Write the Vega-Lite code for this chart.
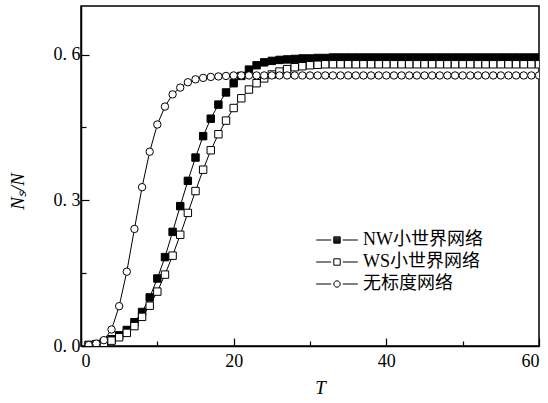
{
 "$schema": "https://vega.github.io/schema/vega-lite/v6.json",
 "width": 458, "height": 340,
 "autosize": {"type": "none"},
 "padding": {"left": 81, "top": 6, "right": 9, "bottom": 57},
 "background": "white",
 "config": {"view": {"stroke": "black", "strokeWidth": 1.5}, "font": "Liberation Serif"},
 "data": {"values": [
  {"T":1,"y":0.002,"s":"NW小世界网络"},{"T":2,"y":0.004,"s":"NW小世界网络"},{"T":3,"y":0.008,"s":"NW小世界网络"},{"T":4,"y":0.014,"s":"NW小世界网络"},{"T":5,"y":0.022,"s":"NW小世界网络"},{"T":6,"y":0.033,"s":"NW小世界网络"},{"T":7,"y":0.049,"s":"NW小世界网络"},{"T":8,"y":0.070,"s":"NW小世界网络"},{"T":9,"y":0.100,"s":"NW小世界网络"},{"T":10,"y":0.139,"s":"NW小世界网络"},
  {"T":11,"y":0.183,"s":"NW小世界网络"},{"T":12,"y":0.235,"s":"NW小世界网络"},{"T":13,"y":0.288,"s":"NW小世界网络"},{"T":14,"y":0.340,"s":"NW小世界网络"},{"T":15,"y":0.388,"s":"NW小世界网络"},{"T":16,"y":0.432,"s":"NW小世界网络"},{"T":17,"y":0.468,"s":"NW小世界网络"},{"T":18,"y":0.497,"s":"NW小世界网络"},{"T":19,"y":0.522,"s":"NW小世界网络"},{"T":20,"y":0.541,"s":"NW小世界网络"},
  {"T":21,"y":0.556,"s":"NW小世界网络"},{"T":22,"y":0.569,"s":"NW小世界网络"},{"T":23,"y":0.578,"s":"NW小世界网络"},{"T":24,"y":0.584,"s":"NW小世界网络"},{"T":25,"y":0.587,"s":"NW小世界网络"},{"T":26,"y":0.589,"s":"NW小世界网络"},{"T":27,"y":0.590,"s":"NW小世界网络"},{"T":28,"y":0.591,"s":"NW小世界网络"},{"T":29,"y":0.592,"s":"NW小世界网络"},{"T":30,"y":0.592,"s":"NW小世界网络"},
  {"T":31,"y":0.593,"s":"NW小世界网络"},{"T":32,"y":0.593,"s":"NW小世界网络"},{"T":33,"y":0.594,"s":"NW小世界网络"},{"T":34,"y":0.594,"s":"NW小世界网络"},{"T":35,"y":0.594,"s":"NW小世界网络"},{"T":36,"y":0.594,"s":"NW小世界网络"},{"T":37,"y":0.594,"s":"NW小世界网络"},{"T":38,"y":0.594,"s":"NW小世界网络"},{"T":39,"y":0.594,"s":"NW小世界网络"},{"T":40,"y":0.594,"s":"NW小世界网络"},
  {"T":41,"y":0.594,"s":"NW小世界网络"},{"T":42,"y":0.594,"s":"NW小世界网络"},{"T":43,"y":0.594,"s":"NW小世界网络"},{"T":44,"y":0.594,"s":"NW小世界网络"},{"T":45,"y":0.594,"s":"NW小世界网络"},{"T":46,"y":0.594,"s":"NW小世界网络"},{"T":47,"y":0.594,"s":"NW小世界网络"},{"T":48,"y":0.594,"s":"NW小世界网络"},{"T":49,"y":0.594,"s":"NW小世界网络"},{"T":50,"y":0.594,"s":"NW小世界网络"},
  {"T":51,"y":0.594,"s":"NW小世界网络"},{"T":52,"y":0.594,"s":"NW小世界网络"},{"T":53,"y":0.594,"s":"NW小世界网络"},{"T":54,"y":0.594,"s":"NW小世界网络"},{"T":55,"y":0.594,"s":"NW小世界网络"},{"T":56,"y":0.594,"s":"NW小世界网络"},{"T":57,"y":0.594,"s":"NW小世界网络"},{"T":58,"y":0.594,"s":"NW小世界网络"},{"T":59,"y":0.594,"s":"NW小世界网络"},{"T":60,"y":0.594,"s":"NW小世界网络"},
  {"T":1,"y":0.002,"s":"WS小世界网络"},{"T":2,"y":0.003,"s":"WS小世界网络"},{"T":3,"y":0.006,"s":"WS小世界网络"},{"T":4,"y":0.011,"s":"WS小世界网络"},{"T":5,"y":0.018,"s":"WS小世界网络"},{"T":6,"y":0.027,"s":"WS小世界网络"},{"T":7,"y":0.041,"s":"WS小世界网络"},{"T":8,"y":0.060,"s":"WS小世界网络"},{"T":9,"y":0.083,"s":"WS小世界网络"},{"T":10,"y":0.112,"s":"WS小世界网络"},
  {"T":11,"y":0.147,"s":"WS小世界网络"},{"T":12,"y":0.186,"s":"WS小世界网络"},{"T":13,"y":0.229,"s":"WS小世界网络"},{"T":14,"y":0.274,"s":"WS小世界网络"},{"T":15,"y":0.319,"s":"WS小世界网络"},{"T":16,"y":0.363,"s":"WS小世界网络"},{"T":17,"y":0.403,"s":"WS小世界网络"},{"T":18,"y":0.436,"s":"WS小世界网络"},{"T":19,"y":0.464,"s":"WS小世界网络"},{"T":20,"y":0.490,"s":"WS小世界网络"},
  {"T":21,"y":0.510,"s":"WS小世界网络"},{"T":22,"y":0.528,"s":"WS小世界网络"},{"T":23,"y":0.541,"s":"WS小世界网络"},{"T":24,"y":0.551,"s":"WS小世界网络"},{"T":25,"y":0.559,"s":"WS小世界网络"},{"T":26,"y":0.565,"s":"WS小世界网络"},{"T":27,"y":0.570,"s":"WS小世界网络"},{"T":28,"y":0.574,"s":"WS小世界网络"},{"T":29,"y":0.576,"s":"WS小世界网络"},{"T":30,"y":0.578,"s":"WS小世界网络"},
  {"T":31,"y":0.579,"s":"WS小世界网络"},{"T":32,"y":0.580,"s":"WS小世界网络"},{"T":33,"y":0.580,"s":"WS小世界网络"},{"T":34,"y":0.580,"s":"WS小世界网络"},{"T":35,"y":0.580,"s":"WS小世界网络"},{"T":36,"y":0.580,"s":"WS小世界网络"},{"T":37,"y":0.580,"s":"WS小世界网络"},{"T":38,"y":0.580,"s":"WS小世界网络"},{"T":39,"y":0.580,"s":"WS小世界网络"},{"T":40,"y":0.580,"s":"WS小世界网络"},
  {"T":41,"y":0.580,"s":"WS小世界网络"},{"T":42,"y":0.580,"s":"WS小世界网络"},{"T":43,"y":0.580,"s":"WS小世界网络"},{"T":44,"y":0.580,"s":"WS小世界网络"},{"T":45,"y":0.580,"s":"WS小世界网络"},{"T":46,"y":0.580,"s":"WS小世界网络"},{"T":47,"y":0.580,"s":"WS小世界网络"},{"T":48,"y":0.580,"s":"WS小世界网络"},{"T":49,"y":0.580,"s":"WS小世界网络"},{"T":50,"y":0.580,"s":"WS小世界网络"},
  {"T":51,"y":0.580,"s":"WS小世界网络"},{"T":52,"y":0.580,"s":"WS小世界网络"},{"T":53,"y":0.580,"s":"WS小世界网络"},{"T":54,"y":0.580,"s":"WS小世界网络"},{"T":55,"y":0.580,"s":"WS小世界网络"},{"T":56,"y":0.580,"s":"WS小世界网络"},{"T":57,"y":0.580,"s":"WS小世界网络"},{"T":58,"y":0.580,"s":"WS小世界网络"},{"T":59,"y":0.580,"s":"WS小世界网络"},{"T":60,"y":0.580,"s":"WS小世界网络"},
  {"T":1,"y":0.002,"s":"无标度网络"},{"T":2,"y":0.005,"s":"无标度网络"},{"T":3,"y":0.012,"s":"无标度网络"},{"T":4,"y":0.034,"s":"无标度网络"},{"T":5,"y":0.082,"s":"无标度网络"},{"T":6,"y":0.153,"s":"无标度网络"},{"T":7,"y":0.241,"s":"无标度网络"},{"T":8,"y":0.327,"s":"无标度网络"},{"T":9,"y":0.400,"s":"无标度网络"},{"T":10,"y":0.456,"s":"无标度网络"},
  {"T":11,"y":0.493,"s":"无标度网络"},{"T":12,"y":0.518,"s":"无标度网络"},{"T":13,"y":0.532,"s":"无标度网络"},{"T":14,"y":0.543,"s":"无标度网络"},{"T":15,"y":0.549,"s":"无标度网络"},{"T":16,"y":0.552,"s":"无标度网络"},{"T":17,"y":0.554,"s":"无标度网络"},{"T":18,"y":0.555,"s":"无标度网络"},{"T":19,"y":0.556,"s":"无标度网络"},{"T":20,"y":0.557,"s":"无标度网络"},
  {"T":21,"y":0.557,"s":"无标度网络"},{"T":22,"y":0.557,"s":"无标度网络"},{"T":23,"y":0.557,"s":"无标度网络"},{"T":24,"y":0.557,"s":"无标度网络"},{"T":25,"y":0.557,"s":"无标度网络"},{"T":26,"y":0.557,"s":"无标度网络"},{"T":27,"y":0.557,"s":"无标度网络"},{"T":28,"y":0.557,"s":"无标度网络"},{"T":29,"y":0.557,"s":"无标度网络"},{"T":30,"y":0.557,"s":"无标度网络"},
  {"T":31,"y":0.557,"s":"无标度网络"},{"T":32,"y":0.557,"s":"无标度网络"},{"T":33,"y":0.557,"s":"无标度网络"},{"T":34,"y":0.557,"s":"无标度网络"},{"T":35,"y":0.557,"s":"无标度网络"},{"T":36,"y":0.557,"s":"无标度网络"},{"T":37,"y":0.557,"s":"无标度网络"},{"T":38,"y":0.557,"s":"无标度网络"},{"T":39,"y":0.557,"s":"无标度网络"},{"T":40,"y":0.557,"s":"无标度网络"},
  {"T":41,"y":0.557,"s":"无标度网络"},{"T":42,"y":0.557,"s":"无标度网络"},{"T":43,"y":0.557,"s":"无标度网络"},{"T":44,"y":0.557,"s":"无标度网络"},{"T":45,"y":0.557,"s":"无标度网络"},{"T":46,"y":0.557,"s":"无标度网络"},{"T":47,"y":0.557,"s":"无标度网络"},{"T":48,"y":0.557,"s":"无标度网络"},{"T":49,"y":0.557,"s":"无标度网络"},{"T":50,"y":0.557,"s":"无标度网络"},
  {"T":51,"y":0.557,"s":"无标度网络"},{"T":52,"y":0.557,"s":"无标度网络"},{"T":53,"y":0.557,"s":"无标度网络"},{"T":54,"y":0.557,"s":"无标度网络"},{"T":55,"y":0.557,"s":"无标度网络"},{"T":56,"y":0.557,"s":"无标度网络"},{"T":57,"y":0.557,"s":"无标度网络"},{"T":58,"y":0.557,"s":"无标度网络"},{"T":59,"y":0.557,"s":"无标度网络"},{"T":60,"y":0.557,"s":"无标度网络"}
 ]},
 "encoding": {
  "x": {"field": "T", "type": "quantitative", "scale": {"domain": [0, 60], "nice": false},
   "axis": {"values": [0,10,20,30,40,50,60], "labelExpr": "datum.value % 20 === 0 ? datum.label : ''",
    "tickSize": -8, "tickDash": {"condition": {"test": "datum.value % 20 !== 0", "value": [5, 30]}, "value": [30, 0]},
    "tickColor": "black", "domainColor": "black", "domainWidth": 1.5, "tickWidth": 1.2, "grid": false,
    "labelFont": "Liberation Serif", "labelFontSize": 18, "labelColor": "black", "labelPadding": 14,
    "title": "T", "titleFont": "Liberation Serif", "titleFontStyle": "italic", "titleFontWeight": "normal", "titleFontSize": 19, "titleColor": "black",
    "titleX": 239, "titleY": 41, "titleAlign": "center", "titleBaseline": "middle"}},
  "y": {"field": "y", "type": "quantitative", "scale": {"domain": [0, 0.7], "nice": false},
   "axis": {"values": [0,0.15,0.3,0.45,0.6],
    "labelExpr": "indexof(['0.00','0.30','0.60'], format(datum.value,'.2f')) >= 0 ? replace(format(datum.value,'.1f'),'.','. ') : ''",
    "tickSize": -8, "tickDash": {"condition": {"test": "indexof(['0.15','0.45'], format(datum.value,'.2f')) >= 0", "value": [5, 30]}, "value": [30, 0]},
    "tickColor": "black", "domainColor": "black", "domainWidth": 1.5, "tickWidth": 1.2, "grid": false,
    "labelFont": "Liberation Serif", "labelFontSize": 18, "labelColor": "black", "labelPadding": 9,
    "title": "Nₛ/N", "titleFont": "Liberation Serif", "titleFontStyle": "italic", "titleFontWeight": "normal", "titleFontSize": 19, "titleColor": "black",
    "titleX": -64, "titleY": 185, "titleAngle": -90, "titleAlign": "center", "titleBaseline": "middle"}}
 },
 "layer": [
  {"mark": {"type": "line", "color": "black", "strokeWidth": 1, "clip": true}, "encoding": {"detail": {"field": "s"}}},
  {"mark": {"type": "point", "stroke": "black", "strokeWidth": 1, "opacity": 1, "size": 55, "clip": true},
   "encoding": {
    "shape": {"field": "s", "type": "nominal",
     "scale": {"domain": ["NW小世界网络", "WS小世界网络", "无标度网络"], "range": ["square", "square", "circle"]},
     "legend": null},
    "fill": {"field": "s", "type": "nominal",
     "scale": {"domain": ["NW小世界网络", "WS小世界网络", "无标度网络"], "range": ["black", "white", "white"]},
     "legend": null}
   }},
  {"mark": {"type": "point", "stroke": "black", "strokeWidth": 1, "opacity": 0, "size": 41, "clip": true},
   "encoding": {
    "shape": {"field": "s", "type": "nominal",
     "scale": {"domain": ["NW小世界网络", "WS小世界网络", "无标度网络"],
      "range": ["M-6.5,0H-1.8M1.8,0H6.5M-1,-1H1V1H-1ZM-1,-0.7H1M-1,-0.4H1M-1,-0.1H1M-1,0.2H1M-1,0.5H1M-1,0.8H1", "M-6.5,0H-1.8M1.8,0H6.5M-1,-1H1V1H-1Z", "M-6.5,0H-1.8M1.8,0H6.5M-1,0A1,1,0,1,1,1,0A1,1,0,1,1,-1,0Z"]},
     "legend": {"title": null, "orient": "none", "legendX": 247, "legendY": 225, "symbolSize": 41, "symbolStrokeWidth": 1,
      "labelFont": "Liberation Serif, Noto Sans CJK SC", "labelFontSize": 18, "labelColor": "black", "labelOffset": 17, "rowPadding": 4, "padding": 0}},
    "fill": {"field": "s", "type": "nominal",
     "scale": {"domain": ["NW小世界网络", "WS小世界网络", "无标度网络"], "range": ["black", "white", "white"]},
     "legend": {"title": null, "orient": "none", "legendX": 247, "legendY": 225, "symbolSize": 41, "symbolStrokeWidth": 1,
      "labelFont": "Liberation Serif, Noto Sans CJK SC", "labelFontSize": 18, "labelColor": "black", "labelOffset": 17, "rowPadding": 4, "padding": 0}}
   }}
 ],
 "resolve": {"scale": {"shape": "independent", "fill": "independent"}}
}
